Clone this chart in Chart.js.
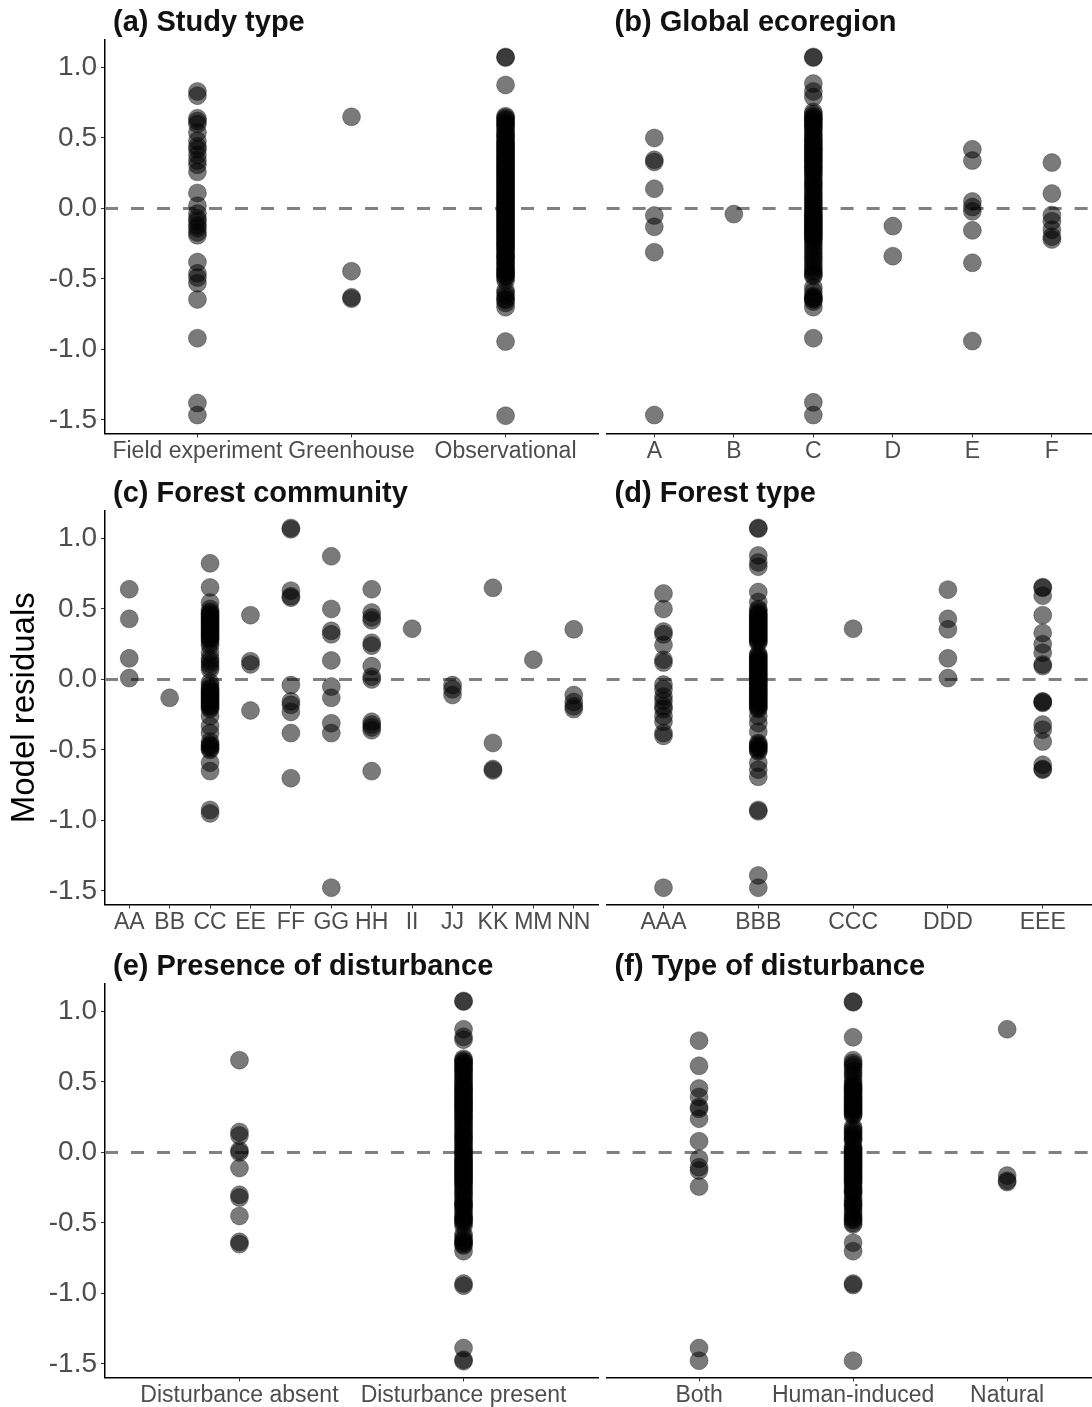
<!DOCTYPE html>
<html><head><meta charset="utf-8">
<script src="https://cdn.jsdelivr.net/npm/chart.js@4.4.0/dist/chart.umd.min.js"></script>
<style>
html,body{margin:0;padding:0;background:#fff;width:1092px;height:1407px;overflow:hidden;position:relative;}
.p{position:absolute;}
</style></head><body>
<div class="p" style="left:0;top:0;width:600px;height:471px"><canvas id="ca"></canvas></div>
<div class="p" style="left:600px;top:0;width:500px;height:471px"><canvas id="cb"></canvas></div>
<div class="p" style="left:0;top:471px;width:600px;height:471px"><canvas id="cc"></canvas></div>
<div class="p" style="left:600px;top:471px;width:500px;height:471px"><canvas id="cd"></canvas></div>
<div class="p" style="left:0;top:944px;width:600px;height:471px"><canvas id="ce"></canvas></div>
<div class="p" style="left:600px;top:944px;width:500px;height:471px"><canvas id="cf"></canvas></div>
<script>
// ---------- Data ----------
const yTickValues = [-1.5, -1.0, -0.5, 0.0, 0.5, 1.0];

// (a) Study type
const studyCats = ['Field experiment', 'Greenhouse', 'Observational'];
const studyField = [0.83, 0.80, 0.64, 0.62, 0.60, 0.54, 0.48, 0.44, 0.42, 0.38, 0.34, 0.31, 0.26, 0.11, 0.02, -0.035, -0.07, -0.09, -0.12, -0.14, -0.17, -0.19, -0.38, -0.46, -0.49, -0.53, -0.645, -0.92, -1.38, -1.465];
const studyGreenhouse = [0.65, -0.445, -0.63, -0.64];
const studyObs = [1.075, 1.07, 0.876, 0.655, 0.645, 0.635, 0.625, 0.61, 0.60, 0.59, 0.58, 0.56, 0.55, 0.53, 0.52, 0.51, 0.50, 0.48, 0.47, 0.46, 0.45, 0.44, 0.43, 0.42, 0.41, 0.40, 0.39, 0.38, 0.37, 0.36, 0.35, 0.34, 0.33, 0.32, 0.31, 0.30, 0.29, 0.28, 0.27, 0.26, 0.25, 0.24, 0.23, 0.22, 0.21, 0.20, 0.19, 0.18, 0.17, 0.16, 0.15, 0.14, 0.13, 0.12, 0.11, 0.10, 0.09, 0.08, 0.07, 0.06, 0.05, 0.04, 0.03, 0.02, 0.01, 0.00, -0.01, -0.02, -0.03, -0.04, -0.05, -0.06, -0.07, -0.08, -0.09, -0.10, -0.11, -0.12, -0.13, -0.14, -0.15, -0.16, -0.17, -0.18, -0.19, -0.20, -0.21, -0.22, -0.23, -0.24, -0.25, -0.26, -0.27, -0.28, -0.29, -0.30, -0.32, -0.33, -0.34, -0.35, -0.36, -0.38, -0.39, -0.40, -0.42, -0.43, -0.44, -0.45, -0.46, -0.47, -0.48, -0.49, -0.51, -0.58, -0.60, -0.62, -0.64, -0.65, -0.67, -0.70, -0.944, -1.47];

// (b) Global ecoregion
const ecoCats = ['A', 'B', 'C', 'D', 'E', 'F'];
const ecoA = [0.50, 0.345, 0.33, 0.14, -0.05, -0.13, -0.31, -1.465];
const ecoB = [-0.04];
const ecoC = [1.075, 1.07, 0.886, 0.83, 0.79, 0.685, 0.67, 0.655, 0.645, 0.635, 0.625, 0.615, 0.60, 0.59, 0.58, 0.565, 0.55, 0.53, 0.52, 0.50, 0.49, 0.48, 0.465, 0.455, 0.44, 0.43, 0.42, 0.41, 0.40, 0.385, 0.375, 0.36, 0.35, 0.34, 0.33, 0.315, 0.30, 0.29, 0.28, 0.265, 0.25, 0.24, 0.22, 0.20, 0.185, 0.17, 0.155, 0.14, 0.12, 0.105, 0.09, 0.075, 0.06, 0.045, 0.03, 0.015, 0.00, -0.015, -0.03, -0.04, -0.05, -0.06, -0.07, -0.08, -0.09, -0.10, -0.11, -0.12, -0.13, -0.14, -0.15, -0.16, -0.17, -0.18, -0.19, -0.20, -0.21, -0.22, -0.24, -0.26, -0.28, -0.30, -0.32, -0.34, -0.36, -0.38, -0.40, -0.42, -0.44, -0.455, -0.47, -0.48, -0.56, -0.59, -0.62, -0.63, -0.64, -0.645, -0.66, -0.70, -0.92, -1.375, -1.465];
const ecoD = [-0.125, -0.338];
const ecoE = [0.42, 0.34, 0.05, 0.01, -0.02, -0.155, -0.385, -0.94];
const ecoF = [0.326, 0.106, -0.047, -0.09, -0.15, -0.20, -0.22];

// (c) Forest community
const commCats = ['AA', 'BB', 'CC', 'EE', 'FF', 'GG', 'HH', 'II', 'JJ', 'KK', 'MM', 'NN'];
const commAA = [0.64, 0.43, 0.15, 0.01];
const commBB = [-0.13];
const commCC = [0.824, 0.653, 0.546, 0.50, 0.48, 0.47, 0.46, 0.45, 0.44, 0.43, 0.42, 0.41, 0.40, 0.39, 0.38, 0.37, 0.36, 0.35, 0.34, 0.33, 0.32, 0.31, 0.30, 0.29, 0.28, 0.26, 0.24, 0.19, 0.15, 0.13, 0.11, 0.09, 0.07, -0.02, -0.04, -0.06, -0.07, -0.08, -0.09, -0.10, -0.11, -0.12, -0.13, -0.14, -0.15, -0.16, -0.17, -0.18, -0.19, -0.20, -0.21, -0.26, -0.33, -0.38, -0.44, -0.46, -0.47, -0.48, -0.49, -0.50, -0.59, -0.65, -0.925, -0.95];
const commEE = [0.456, 0.13, 0.107, -0.22];
const commFF = [1.075, 1.065, 0.63, 0.59, 0.58, -0.04, -0.155, -0.18, -0.23, -0.38, -0.70];
const commGG = [0.874, 0.50, 0.345, 0.32, 0.135, -0.05, -0.13, -0.31, -0.38, -1.477];
const commHH = [0.64, 0.475, 0.44, 0.42, 0.26, 0.24, 0.095, 0.02, 0.00, -0.30, -0.32, -0.34, -0.36, -0.65];
const commII = [0.36];
const commJJ = [-0.04, -0.07, -0.11];
const commKK = [0.65, -0.45, -0.635, -0.645];
const commMM = [0.14];
const commNN = [0.356, -0.11, -0.16, -0.19, -0.21];

// (d) Forest type
const typeCats = ['AAA', 'BBB', 'CCC', 'DDD', 'EEE'];
const typeAAA = [0.61, 0.50, 0.34, 0.32, 0.245, 0.14, 0.12, -0.036, -0.07, -0.12, -0.15, -0.19, -0.21, -0.26, -0.30, -0.38, -0.40, -1.477];
const typeBBB = [1.075, 1.07, 0.88, 0.83, 0.80, 0.62, 0.55, 0.50, 0.49, 0.47, 0.46, 0.45, 0.44, 0.43, 0.42, 0.41, 0.40, 0.39, 0.38, 0.37, 0.36, 0.35, 0.34, 0.33, 0.32, 0.31, 0.30, 0.29, 0.28, 0.27, 0.26, 0.18, 0.17, 0.16, 0.15, 0.14, 0.13, 0.12, 0.11, 0.10, 0.09, 0.08, 0.07, 0.06, 0.05, 0.04, 0.03, 0.02, 0.01, 0.00, -0.01, -0.02, -0.03, -0.04, -0.05, -0.06, -0.07, -0.08, -0.09, -0.10, -0.11, -0.12, -0.13, -0.14, -0.15, -0.16, -0.17, -0.18, -0.19, -0.20, -0.21, -0.26, -0.31, -0.37, -0.45, -0.46, -0.47, -0.48, -0.49, -0.50, -0.51, -0.59, -0.64, -0.69, -0.925, -0.935, -1.39, -1.477];
const typeCCC = [0.36];
const typeDDD = [0.637, 0.43, 0.356, 0.15, 0.01];
const typeEEE = [0.655, 0.65, 0.594, 0.456, 0.33, 0.25, 0.19, 0.107, 0.095, -0.155, -0.16, -0.166, -0.32, -0.356, -0.44, -0.605, -0.635, -0.64];

// (e) Presence of disturbance
const presCats = ['Disturbance absent', 'Disturbance present'];
const presAbsent = [0.655, 0.145, 0.12, 0.015, 0.00, -0.11, -0.30, -0.32, -0.45, -0.634, -0.65];
const presPresent = [1.075, 1.07, 0.874, 0.82, 0.80, 0.665, 0.655, 0.645, 0.635, 0.625, 0.615, 0.60, 0.59, 0.58, 0.565, 0.55, 0.535, 0.52, 0.505, 0.49, 0.48, 0.465, 0.455, 0.445, 0.435, 0.425, 0.415, 0.40, 0.39, 0.38, 0.37, 0.36, 0.35, 0.34, 0.33, 0.32, 0.31, 0.30, 0.29, 0.275, 0.26, 0.25, 0.24, 0.225, 0.21, 0.195, 0.18, 0.165, 0.15, 0.135, 0.12, 0.11, 0.10, 0.085, 0.07, 0.055, 0.04, 0.025, 0.01, 0.00, -0.01, -0.025, -0.04, -0.05, -0.06, -0.07, -0.08, -0.09, -0.10, -0.11, -0.12, -0.13, -0.14, -0.15, -0.16, -0.17, -0.18, -0.19, -0.20, -0.21, -0.22, -0.235, -0.25, -0.265, -0.28, -0.295, -0.31, -0.33, -0.35, -0.36, -0.37, -0.38, -0.39, -0.41, -0.43, -0.45, -0.46, -0.47, -0.48, -0.49, -0.50, -0.52, -0.58, -0.60, -0.62, -0.63, -0.64, -0.65, -0.66, -0.70, -0.93, -0.945, -1.387, -1.47, -1.48];

// (f) Type of disturbance
const distCats = ['Both', 'Human-induced', 'Natural'];
const distBoth = [0.793, 0.615, 0.454, 0.394, 0.323, 0.31, 0.24, 0.08, -0.045, -0.105, -0.128, -0.242, -1.387, -1.477];
const distHuman = [1.07, 1.065, 0.817, 0.655, 0.635, 0.62, 0.605, 0.58, 0.56, 0.54, 0.51, 0.49, 0.475, 0.465, 0.455, 0.445, 0.435, 0.425, 0.415, 0.40, 0.39, 0.38, 0.37, 0.36, 0.35, 0.34, 0.33, 0.32, 0.31, 0.30, 0.29, 0.28, 0.27, 0.26, 0.18, 0.165, 0.15, 0.135, 0.12, 0.105, 0.095, 0.085, 0.04, 0.03, 0.02, 0.01, 0.00, -0.01, -0.02, -0.03, -0.04, -0.05, -0.06, -0.07, -0.08, -0.09, -0.10, -0.11, -0.12, -0.13, -0.14, -0.15, -0.16, -0.17, -0.18, -0.19, -0.20, -0.21, -0.22, -0.24, -0.26, -0.27, -0.28, -0.29, -0.32, -0.34, -0.36, -0.37, -0.38, -0.40, -0.42, -0.44, -0.46, -0.47, -0.48, -0.50, -0.51, -0.64, -0.70, -0.93, -0.94, -1.477];
const distNatural = [0.874, -0.164, -0.20, -0.21];

// ---------- Drawing ----------
const FONT = '"Liberation Sans", Arial, Helvetica, sans-serif';
Chart.defaults.font.family = FONT;

const zeroLine = {
  id: 'zeroLine',
  beforeDatasetsDraw(chart) {
    const {ctx, chartArea: a, scales: {y}} = chart;
    const py = y.getPixelForValue(0);
    ctx.save();
    ctx.strokeStyle = '#808080';
    ctx.lineWidth = 3;
    ctx.setLineDash([13, 13]);
    ctx.beginPath();
    ctx.moveTo(a.left, py);
    ctx.lineTo(a.right, py);
    ctx.stroke();
    ctx.restore();
  }
};

const panelTitle = {
  id: 'panelTitle',
  afterDraw(chart, args, opts) {
    const {ctx, chartArea: a} = chart;
    ctx.save();
    ctx.font = 'bold 29px ' + FONT;
    ctx.fillStyle = '#111';
    ctx.textBaseline = 'alphabetic';
    ctx.textAlign = 'left';
    ctx.fillText(opts.text, a.left + 8, 30.5);
    ctx.restore();
  }
};

function makePanel(id, title, cats, groups, isLeft, showYTitle) {
  const datasets = groups.map((vals, i) => ({
    data: vals.map(v => ({x: i + 1, y: v})),
    pointRadius: 9,
    pointHoverRadius: 9,
    backgroundColor: 'rgba(0,0,0,0.52)',
    borderColor: 'rgba(0,0,0,0.3)',
    borderWidth: 1
  }));
  new Chart(document.getElementById(id), {
    type: 'scatter',
    data: {datasets},
    plugins: [zeroLine, panelTitle],
    options: {
      animation: false,
      responsive: true,
      maintainAspectRatio: false,
      layout: {autoPadding: false, padding: {top: 40, right: isLeft ? 2 : 0.4, left: 0, bottom: 0}},
      plugins: {
        legend: {display: false},
        tooltip: {enabled: false},
        panelTitle: {text: title}
      },
      scales: {
        x: {
          type: 'linear',
          min: 0.4,
          max: cats.length + 0.6,
          afterBuildTicks: ax => { ax.ticks = cats.map((c, i) => ({value: i + 1})); },
          afterFit: ax => { ax.height = 37.5; },
          ticks: {
            autoSkip: false, maxRotation: 0, minRotation: 0, padding: 0,
            color: '#4d4d4d', font: {size: 23, family: FONT},
            callback: v => cats[Math.round(v) - 1] ?? ''
          },
          grid: {display: true, drawOnChartArea: false, drawTicks: true, tickLength: 4, color: '#333', tickColor: '#333', tickWidth: 1},
          border: {display: true, color: '#000', width: 1.5}
        },
        y: {
          type: 'linear',
          min: -1.596,
          max: 1.195,
          afterBuildTicks: ax => { ax.ticks = yTickValues.map(v => ({value: v})); },
          afterFit: ax => { ax.width = isLeft ? 105 : 6.6; },
          ticks: {
            display: isLeft, padding: 4, color: '#4d4d4d', font: {size: 28, family: FONT},
            callback: v => v.toFixed(1)
          },
          grid: {display: isLeft, drawOnChartArea: false, drawTicks: true, tickLength: 4, color: '#333', tickColor: '#333', tickWidth: 1},
          border: {display: isLeft, color: '#000', width: 1.5},
          title: {display: showYTitle, text: 'Model residuals', color: '#000', font: {size: 33, family: FONT}, padding: {top: 5, bottom: 0}}
        }
      }
    }
  });
}

makePanel('ca', '(a) Study type', studyCats, [studyField, studyGreenhouse, studyObs], true, false);
makePanel('cb', '(b) Global ecoregion', ecoCats, [ecoA, ecoB, ecoC, ecoD, ecoE, ecoF], false, false);
makePanel('cc', '(c) Forest community', commCats, [commAA, commBB, commCC, commEE, commFF, commGG, commHH, commII, commJJ, commKK, commMM, commNN], true, true);
makePanel('cd', '(d) Forest type', typeCats, [typeAAA, typeBBB, typeCCC, typeDDD, typeEEE], false, false);
makePanel('ce', '(e) Presence of disturbance', presCats, [presAbsent, presPresent], true, false);
makePanel('cf', '(f) Type of disturbance', distCats, [distBoth, distHuman, distNatural], false, false);
</script>
</body></html>
